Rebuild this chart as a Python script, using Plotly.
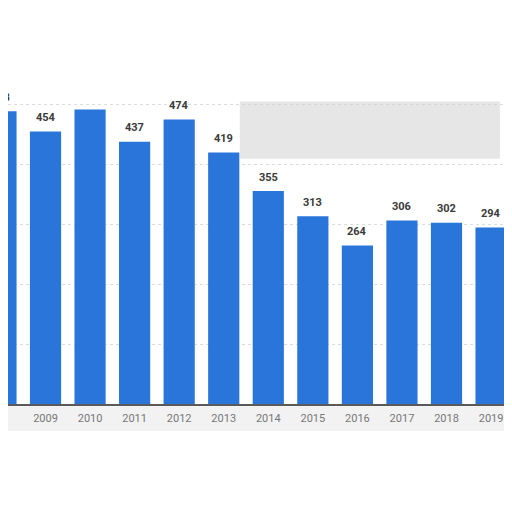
import plotly.graph_objects as go

years = ["2008", "2009", "2010", "2011", "2012", "2013", "2014",
         "2015", "2016", "2017", "2018", "2019"]
values = [488, 454, 491, 437, 474, 419, 355, 313, 264, 306, 302, 294]
# label of 2010 is hidden in the reference
hidden_labels = {"2010"}

BLUE = "#2a75d9"
X_RANGE = [0.158, 11.47]
STEP_PX = 44.55  # pixels per category

fig = go.Figure()
fig.add_trace(go.Bar(x=years, y=values, marker_color=BLUE,
                     marker_line_width=0, hoverinfo="skip"))

for i, (yr, v) in enumerate(zip(years, values)):
    if yr in hidden_labels:
        continue
    # keep the anchor inside the range so the cut-off first label still shows
    xa = max(i, X_RANGE[0])
    fig.add_annotation(x=xa, y=v, xref="x", yref="y", text="<b>%d</b>" % v,
                       showarrow=False, yshift=14, xshift=(i - xa) * STEP_PX,
                       font=dict(family="Roboto", size=11, color="#3a3a3a"))

# grey smudge over the top right (blurred title area)
fig.add_shape(type="rect", xref="paper", yref="paper",
              x0=0.46, x1=0.976, y0=0.73, y1=0.90,
              fillcolor="rgba(205,205,205,0.5)", line_width=0, layer="above")
# light band under the axis
fig.add_shape(type="rect", xref="paper", yref="paper",
              x0=0.0, x1=0.99, y0=-0.08, y1=-0.005,
              fillcolor="rgba(230,230,230,0.5)", line_width=0, layer="below")

fig.update_layout(
    width=504, height=504,
    margin=dict(l=0, r=0, t=60, b=108),
    paper_bgcolor="white", plot_bgcolor="white",
    bargap=0.30, showlegend=False,
    font=dict(family="Roboto", size=11, color="#666"),
)
fig.update_xaxes(type="category", range=X_RANGE, automargin=False,
                 showline=True, linecolor="#5a5a5a", linewidth=1.5,
                 ticks="", ticklabelstandoff=3,
                 tickfont=dict(size=11, color="#777"), showgrid=False)
fig.update_yaxes(range=[0, 560], dtick=100, showticklabels=False, automargin=False,
                 gridcolor="#dddddd", griddash="dot", zeroline=False)

fig.write_html("out.html")
